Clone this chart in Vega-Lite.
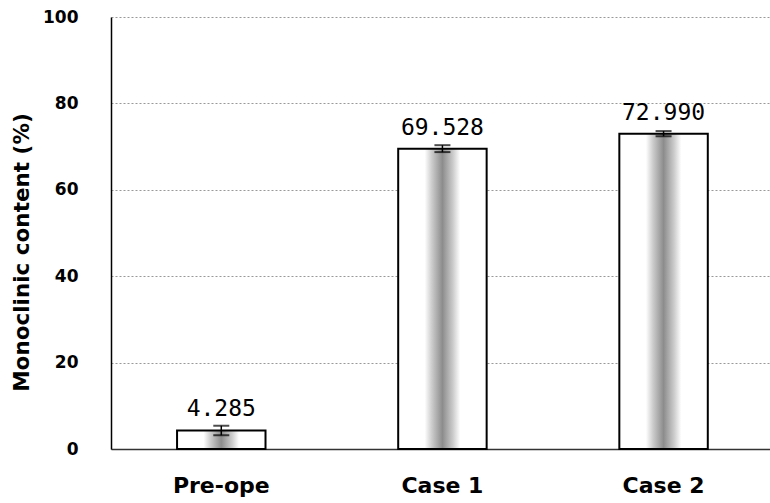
{
  "$schema": "https://vega.github.io/schema/vega-lite/v6.json",
  "autosize": "none",
  "width": 659,
  "height": 432,
  "padding": {"left": 111, "top": 17, "right": 0, "bottom": 54},
  "background": "white",
  "config": {"view": {"stroke": null}},
  "data": {"values": [
    {"group": "Pre-ope", "value": 4.285, "err": 1.1, "label": "4.285"},
    {"group": "Case 1", "value": 69.528, "err": 0.8, "label": "69.528"},
    {"group": "Case 2", "value": 72.99, "err": 0.6, "label": "72.990"}
  ]},
  "encoding": {
    "x": {
      "field": "group", "type": "nominal", "sort": ["Pre-ope", "Case 1", "Case 2"],
      "scale": {"paddingInner": 0.6, "paddingOuter": 0.29, "align": 0.515},
      "axis": {
        "title": null, "labelAngle": 0, "labelFont": "DejaVu Sans", "labelFontWeight": "bold",
        "labelFontSize": 22, "labelColor": "black", "labelPadding": 26, "ticks": false,
        "domainColor": "#333", "domainWidth": 1.5, "grid": false
      }
    }
  },
  "layer": [
    {
      "mark": {
        "type": "bar", "stroke": "black", "strokeWidth": 2,
        "fill": {"gradient": "linear", "x1": 0, "y1": 0, "x2": 1, "y2": 0, "stops": [
          {"offset": 0, "color": "#ffffff"},
          {"offset": 0.3, "color": "#ffffff"},
          {"offset": 0.38, "color": "#cccccc"},
          {"offset": 0.5, "color": "#8c8c8c"},
          {"offset": 0.62, "color": "#cccccc"},
          {"offset": 0.7, "color": "#ffffff"},
          {"offset": 1, "color": "#ffffff"}
        ]}
      },
      "encoding": {
        "y": {
          "field": "value", "type": "quantitative",
          "scale": {"domain": [0, 100], "nice": false},
          "axis": {
            "values": [0, 20, 40, 60, 80, 100], "ticks": false,
            "labelFont": "DejaVu Sans", "labelFontWeight": "bold", "labelFontSize": 17, "labelColor": "black", "labelPadding": 33,
            "domainColor": "black", "domainWidth": 1.5,
            "gridColor": "#999", "gridDash": [2, 2], "gridWidth": 1,
            "title": "Monoclinic content (%)", "titleFont": "DejaVu Sans", "titleFontWeight": "bold",
            "titleFontSize": 21.5, "titleColor": "black", "titleAngle": -90,
            "titleX": -89, "titleY": 235, "titleAlign": "center", "titleBaseline": "middle"
          }
        }
      }
    },
    {
      "mark": {"type": "rule", "color": "black", "strokeWidth": 1.5},
      "encoding": {
        "y": {"field": "lo", "type": "quantitative"},
        "y2": {"field": "hi"}
      },
      "transform": [
        {"calculate": "datum.value - datum.err", "as": "lo"},
        {"calculate": "datum.value + datum.err", "as": "hi"}
      ]
    },
    {
      "mark": {"type": "tick", "color": "black", "size": 16, "thickness": 2},
      "transform": [{"calculate": "datum.value + datum.err", "as": "hi"}],
      "encoding": {"y": {"field": "hi", "type": "quantitative"}}
    },
    {
      "mark": {"type": "tick", "color": "black", "size": 16, "thickness": 2},
      "transform": [{"calculate": "datum.value - datum.err", "as": "lo"}],
      "encoding": {"y": {"field": "lo", "type": "quantitative"}}
    },
    {
      "mark": {"type": "text", "font": "DejaVu Sans Mono", "fontSize": 23, "color": "black", "baseline": "bottom", "dy": -9},
      "encoding": {
        "y": {"field": "value", "type": "quantitative"},
        "text": {"field": "label"}
      }
    }
  ]
}
